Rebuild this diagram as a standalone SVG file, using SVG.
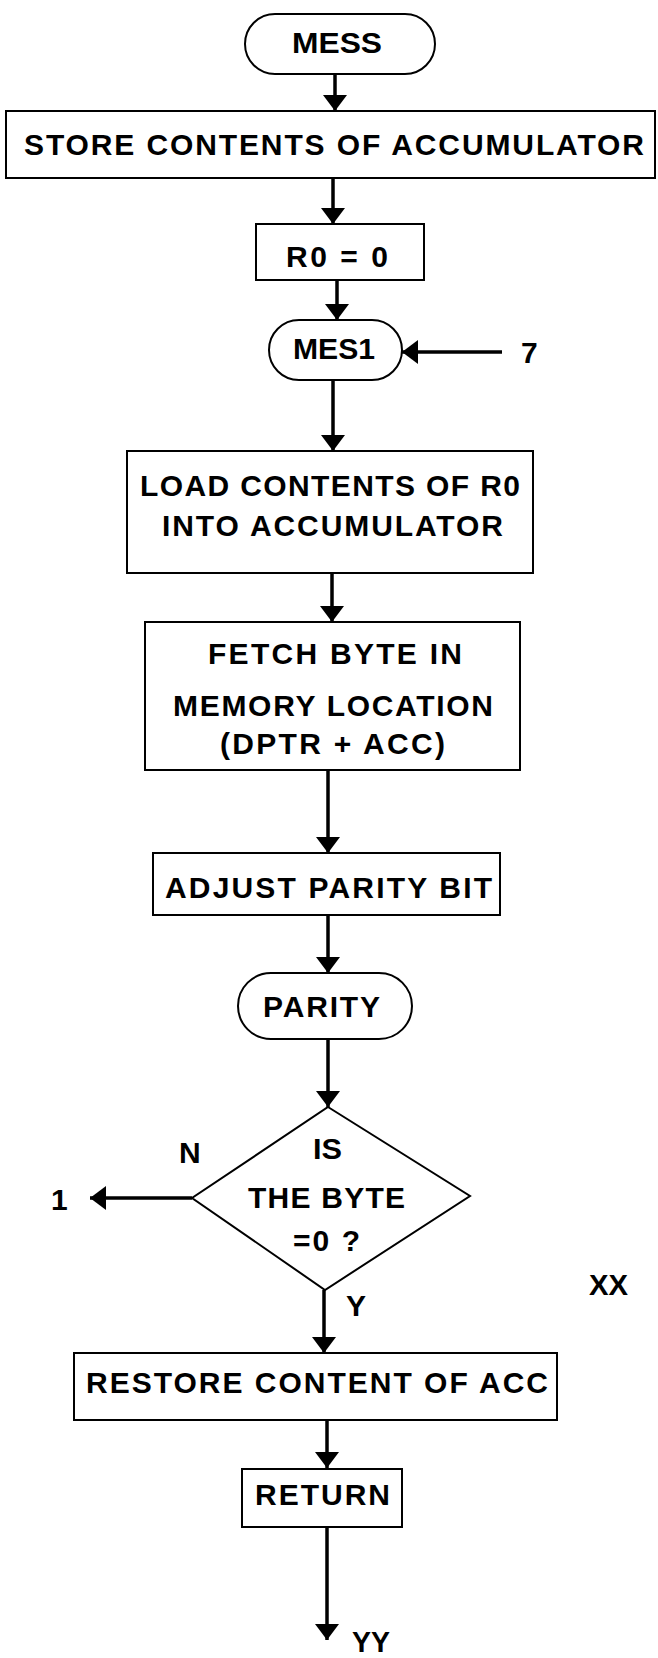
<svg xmlns="http://www.w3.org/2000/svg" width="658" height="1658" viewBox="0 0 658 1658">
<style>
.box{fill:#fff;stroke:#000;stroke-width:2}
.t{font-family:"Liberation Sans",Arial,Helvetica,sans-serif;font-weight:bold;font-size:30px;fill:#000}
.c{fill:none;stroke:#000;stroke-width:3.5}
</style>
<defs>
<marker id="ah" markerUnits="userSpaceOnUse" markerWidth="16" markerHeight="24" refX="16" refY="12" orient="auto">
<path d="M0,0 L16,12 L0,24 Z" fill="#000"/>
</marker>
</defs>
<rect width="658" height="1658" fill="#fff"/>
<g id="connectors">
<line class="c" x1="335" y1="74" x2="335" y2="111" marker-end="url(#ah)"/>
<line class="c" x1="333" y1="178" x2="333" y2="224" marker-end="url(#ah)"/>
<line class="c" x1="337" y1="280" x2="337" y2="320" marker-end="url(#ah)"/>
<line class="c" x1="502" y1="352" x2="402" y2="352" marker-end="url(#ah)"/>
<line class="c" x1="333" y1="380" x2="333" y2="451" marker-end="url(#ah)"/>
<line class="c" x1="332" y1="573" x2="332" y2="622" marker-end="url(#ah)"/>
<line class="c" x1="328" y1="770" x2="328" y2="853" marker-end="url(#ah)"/>
<line class="c" x1="328" y1="915" x2="328" y2="973" marker-end="url(#ah)"/>
<line class="c" x1="328" y1="1039" x2="328" y2="1107" marker-end="url(#ah)"/>
<line class="c" x1="192" y1="1198" x2="90" y2="1198" marker-end="url(#ah)"/>
<line class="c" x1="324" y1="1290" x2="324" y2="1353" marker-end="url(#ah)"/>
<line class="c" x1="327" y1="1420" x2="327" y2="1468" marker-end="url(#ah)"/>
<line class="c" x1="327" y1="1527" x2="327" y2="1640" marker-end="url(#ah)"/>
</g>
<g id="mess">
<rect class="box" x="245" y="14" width="190" height="60" rx="30"/>
<text class="t" x="292" y="53" textLength="90" lengthAdjust="spacingAndGlyphs">MESS</text>
</g>
<g id="store">
<rect class="box" x="6" y="111" width="649" height="67"/>
<text class="t" x="24" y="155" textLength="620" lengthAdjust="spacing">STORE CONTENTS OF ACCUMULATOR</text>
</g>
<g id="r0">
<rect class="box" x="256" y="224" width="168" height="56"/>
<text class="t" x="286" y="267" textLength="102" lengthAdjust="spacing">R0 = 0</text>
</g>
<g id="mes1">
<rect class="box" x="269" y="320" width="133" height="60" rx="30"/>
<text class="t" x="293" y="359" textLength="82" lengthAdjust="spacingAndGlyphs">MES1</text>
</g>
<g id="label7">
<text class="t" x="521" y="363">7</text>
</g>
<g id="load">
<rect class="box" x="127" y="451" width="406" height="122"/>
<text class="t" x="140" y="496" textLength="380" lengthAdjust="spacing">LOAD CONTENTS OF R0</text>
<text class="t" x="162" y="536" textLength="341" lengthAdjust="spacing">INTO ACCUMULATOR</text>
</g>
<g id="fetch">
<rect class="box" x="145" y="622" width="375" height="148"/>
<text class="t" x="208" y="664" textLength="254" lengthAdjust="spacing">FETCH BYTE IN</text>
<text class="t" x="173" y="716" textLength="320" lengthAdjust="spacing">MEMORY LOCATION</text>
<text class="t" x="220" y="754" textLength="225" lengthAdjust="spacing">(DPTR + ACC)</text>
</g>
<g id="adjust">
<rect class="box" x="153" y="853" width="347" height="62"/>
<text class="t" x="165" y="898" textLength="327" lengthAdjust="spacing">ADJUST PARITY BIT</text>
</g>
<g id="parity">
<rect class="box" x="238" y="973" width="174" height="66" rx="33"/>
<text class="t" x="263" y="1017" textLength="117" lengthAdjust="spacing">PARITY</text>
</g>
<g id="decision">
<polygon class="box" points="328,1107 470,1196 325,1290 192,1198"/>
<text class="t" x="313" y="1159" textLength="29" lengthAdjust="spacingAndGlyphs">IS</text>
<text class="t" x="248" y="1208" textLength="157" lengthAdjust="spacing">THE BYTE</text>
<text class="t" x="293" y="1251" textLength="67" lengthAdjust="spacing">=0 ?</text>
<text class="t" x="179" y="1163">N</text>
<text class="t" x="346" y="1316">Y</text>
</g>
<g id="label1">
<text class="t" x="51" y="1210">1</text>
</g>
<g id="labelXX">
<text class="t" x="589" y="1295" textLength="39" lengthAdjust="spacingAndGlyphs">XX</text>
</g>
<g id="restore">
<rect class="box" x="74" y="1353" width="483" height="67"/>
<text class="t" x="86" y="1393" textLength="462" lengthAdjust="spacing">RESTORE CONTENT OF ACC</text>
</g>
<g id="return">
<rect class="box" x="242" y="1469" width="160" height="58"/>
<text class="t" x="255" y="1505" textLength="135" lengthAdjust="spacing">RETURN</text>
</g>
<g id="labelYY">
<text class="t" x="352" y="1652" textLength="38" lengthAdjust="spacingAndGlyphs">YY</text>
</g>
</svg>
